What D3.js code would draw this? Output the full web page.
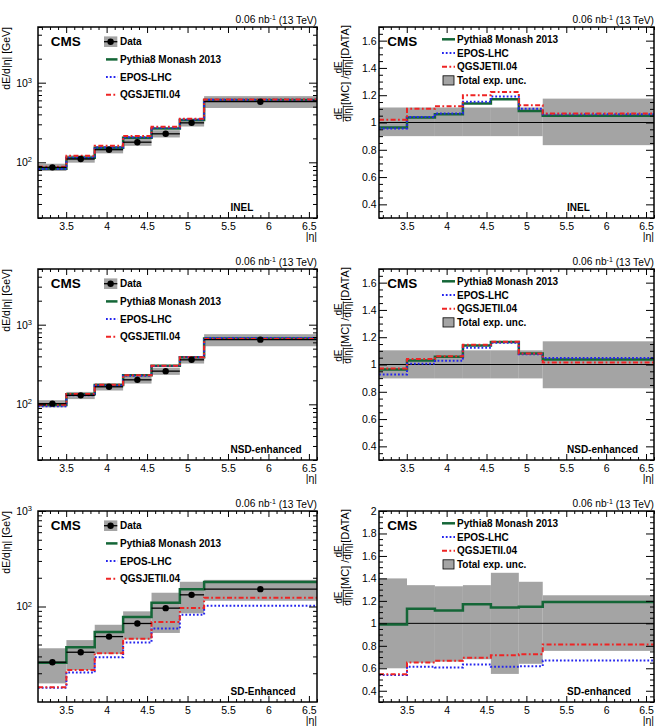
<!DOCTYPE html>
<html><head><meta charset="utf-8">
<script src="https://cdn.jsdelivr.net/npm/d3@7/dist/d3.min.js"></script>
<style>
body{margin:0;background:#fff}
svg{display:block}
text{font-family:"Liberation Sans",Arial,Helvetica,sans-serif;fill:#000}
</style>
</head><body>
<svg id="c" width="663" height="728"></svg>
<script>
// ---------------- data ----------------
const binEdges   = [3.152, 3.503, 3.853, 4.204, 4.555, 4.905, 5.205, 6.6];
const binCenters = [3.33, 3.68, 4.03, 4.38, 4.73, 5.05, 5.9];
const xTickValues = [3.5, 4, 4.5, 5, 5.5, 6, 6.5];
const legendLabels = ["Data", "Pythia8 Monash 2013", "EPOS-LHC", "QGSJETII.04", "Total exp. unc."];

// INEL
const inelData       = [86.5, 110, 144, 179, 228, 313, 577];
const inelUncUp      = [1.11, 1.11, 1.11, 1.11, 1.11, 1.11, 1.175];
const inelUncDown    = [0.90, 0.90, 0.90, 0.90, 0.90, 0.90, 0.834];
const inelPythia     = [83.3, 114.1, 152.6, 204.1, 266.8, 339.6, 605.9];
const inelEpos       = [82.7, 114.4, 153.5, 206.4, 271.3, 344.3, 611.6];
const inelQgsjet     = [88.2, 121.0, 161.3, 214.8, 279.1, 352.8, 615.1];
const inelRatioPythia = [0.963, 1.037, 1.06, 1.14, 1.17, 1.085, 1.05];
const inelRatioEpos   = [0.956, 1.04, 1.066, 1.153, 1.19, 1.10, 1.06];
const inelRatioQgsjet = [1.02, 1.10, 1.12, 1.20, 1.224, 1.127, 1.066];

// NSD-enhanced
const nsdData       = [102, 129.6, 166, 203, 261, 362, 649];
const nsdUncUp      = [1.104, 1.104, 1.104, 1.104, 1.104, 1.104, 1.17];
const nsdUncDown    = [0.898, 0.898, 0.898, 0.898, 0.898, 0.898, 0.826];
const nsdPythia     = [98.3, 133.5, 175.3, 231.4, 304.1, 391.0, 672.4];
const nsdEpos       = [94.6, 130.2, 170.5, 228.0, 302.8, 389.2, 680.2];
const nsdQgsjet     = [98.9, 134.8, 176.0, 232.4, 304.6, 391.0, 658.7];
const nsdRatioPythia = [0.964, 1.03, 1.056, 1.14, 1.165, 1.08, 1.036];
const nsdRatioEpos   = [0.927, 1.005, 1.027, 1.123, 1.16, 1.075, 1.048];
const nsdRatioQgsjet = [0.97, 1.04, 1.06, 1.145, 1.167, 1.08, 1.015];

// SD-enhanced
const sdData       = [26.1, 33.2, 48.4, 66.4, 96.1, 132.5, 152];
const sdUncUp      = [1.40, 1.34, 1.33, 1.34, 1.45, 1.37, 1.25];
const sdUncDown    = [0.60, 0.65, 0.66, 0.68, 0.55, 0.64, 0.755];
const sdPythia     = [25.8, 37.5, 54.0, 77.7, 109.6, 152.0, 180.9];
const sdEpos       = [14.1, 20.4, 29.4, 42.0, 58.9, 82.0, 101.8];
const sdQgsjet     = [14.3, 21.6, 32.3, 46.0, 68.9, 96.2, 123.4];
const sdRatioPythia = [0.99, 1.13, 1.115, 1.17, 1.14, 1.147, 1.19];
const sdRatioEpos   = [0.54, 0.613, 0.607, 0.633, 0.613, 0.619, 0.67];
const sdRatioQgsjet = [0.548, 0.652, 0.667, 0.693, 0.717, 0.726, 0.812];

const ratioTicksA = [0.4, 0.6, 0.8, 1, 1.2, 1.4, 1.6];
const ratioTicksB = [0.4, 0.6, 0.8, 1, 1.2, 1.4, 1.6, 1.8, 2];

// ---------------- style ----------------
const BAND = "#a4a4a4";
const LINE_STYLES = [
  {color: "#146637", w: 2.5, dash: null},            // Pythia
  {color: "#2424ee", w: 2,   dash: "1.8,2"},         // EPOS
  {color: "#ee2424", w: 2,   dash: "5,2.4,1.8,2.4"}  // QGSJET
];

const rows = [
  {data: inelData, up: inelUncUp, dn: inelUncDown, mc: [inelPythia, inelEpos, inelQgsjet],
   ratio: [inelRatioPythia, inelRatioEpos, inelRatioQgsjet], yDom: [20, 5000], rDom: [0.3, 1.7],
   rTicks: ratioTicksA, tagL: "INEL", tagR: "INEL"},
  {data: nsdData, up: nsdUncUp, dn: nsdUncDown, mc: [nsdPythia, nsdEpos, nsdQgsjet],
   ratio: [nsdRatioPythia, nsdRatioEpos, nsdRatioQgsjet], yDom: [20, 5000], rDom: [0.3, 1.7],
   rTicks: ratioTicksA, tagL: "NSD-enhanced", tagR: "NSD-enhanced"},
  {data: sdData, up: sdUncUp, dn: sdUncDown, mc: [sdPythia, sdEpos, sdQgsjet],
   ratio: [sdRatioPythia, sdRatioEpos, sdRatioQgsjet], yDom: [10, 1000], rDom: [0.3, 2.0],
   rTicks: ratioTicksB, tagL: "SD-Enhanced", tagR: "SD-enhanced"}
];

const svg = d3.select("#c");
const X_DOM = [3.152, 6.6];
const xMinor = d3.range(32, 67).filter(k => k % 5 !== 0).map(k => k / 10);

function stepPts(vals) {
  return binEdges.map((e, i) => [e, vals[Math.min(i, vals.length - 1)]]);
}

function cleanAxis(sel, fs) {
  sel.select(".domain").remove();
  sel.attr("font-family", null).attr("font-size", fs || 10.5);
  sel.selectAll(".tick line").attr("stroke", "#000").attr("stroke-width", 1);
}

function frameAxes(g, x, y, top, bot, left, right, yMajor, yMinor, yFmt, yPad) {
  g.append("g").attr("transform", `translate(0,${bot})`)
    .call(d3.axisBottom(x).tickValues(xTickValues).tickSize(-6).tickPadding(4.2).tickFormat(d3.format("")))
    .call(s => cleanAxis(s));
  g.append("g").attr("transform", `translate(0,${bot})`)
    .call(d3.axisBottom(x).tickValues(xMinor).tickSize(-3).tickFormat(""))
    .call(s => cleanAxis(s));
  g.append("g").attr("transform", `translate(0,${top})`)
    .call(d3.axisTop(x).tickValues(xTickValues).tickSize(-6).tickFormat(""))
    .call(s => cleanAxis(s));
  g.append("g").attr("transform", `translate(0,${top})`)
    .call(d3.axisTop(x).tickValues(xMinor).tickSize(-3).tickFormat(""))
    .call(s => cleanAxis(s));
  const ya = g.append("g").attr("transform", `translate(${left},0)`)
    .call(d3.axisLeft(y).tickValues(yMajor).tickSize(-8).tickPadding(yPad).tickFormat(yFmt))
    .call(s => cleanAxis(s));
  g.append("g").attr("transform", `translate(${left},0)`)
    .call(d3.axisLeft(y).tickValues(yMinor).tickSize(-4).tickFormat(""))
    .call(s => cleanAxis(s));
  g.append("g").attr("transform", `translate(${right},0)`)
    .call(d3.axisRight(y).tickValues(yMajor).tickSize(-8).tickFormat(""))
    .call(s => cleanAxis(s));
  g.append("g").attr("transform", `translate(${right},0)`)
    .call(d3.axisRight(y).tickValues(yMinor).tickSize(-4).tickFormat(""))
    .call(s => cleanAxis(s));
  g.append("rect").attr("x", left).attr("y", top).attr("width", right - left).attr("height", bot - top)
    .attr("fill", "none").attr("stroke", "#000").attr("stroke-width", 1.5);
  return ya;
}

function lumiText(g, right, top) {
  const t = g.append("text").attr("x", right).attr("y", top - 4).attr("text-anchor", "end").attr("font-size", 10.2);
  t.append("tspan").text("0.06 nb");
  t.append("tspan").attr("dy", "-0.45em").attr("font-size", 7).text("-1");
  t.append("tspan").attr("dy", "0.45em").text(" (13 TeV)");
}

function drawLines(g, x, y, series) {
  const line = d3.line().x(d => x(d[0])).y(d => y(d[1])).curve(d3.curveStepAfter);
  series.forEach((vals, k) => {
    const st = LINE_STYLES[k];
    g.append("path").attr("d", line(stepPts(vals))).attr("fill", "none")
      .attr("stroke", st.color).attr("stroke-width", st.w)
      .attr("stroke-dasharray", st.dash);
  });
}

function etaLabel(g, right, bot) {
  g.append("text").attr("x", right).attr("y", bot + 21.5).attr("text-anchor", "end")
    .attr("font-size", 10.5).text("|η|");
}

// ---------------- left panels ----------------
function leftPanel(r, row) {
  const top = 27 + 242 * r, bot = top + 191, left = 38, right = 317;
  const x = d3.scaleLinear().domain(X_DOM).range([left, right]);
  const y = d3.scaleLog().domain(row.yDom).range([bot, top]);
  const g = svg.append("g");

  g.selectAll(null).data(row.data).join("rect")
    .attr("x", (d, i) => x(binEdges[i]))
    .attr("width", (d, i) => x(binEdges[i + 1]) - x(binEdges[i]))
    .attr("y", (d, i) => y(d * row.up[i]))
    .attr("height", (d, i) => y(d * row.dn[i]) - y(d * row.up[i]))
    .attr("fill", BAND);
  drawLines(g, x, y, row.mc);
  g.selectAll(null).data(row.data).join("line")
    .attr("x1", (d, i) => x(binEdges[i])).attr("x2", (d, i) => x(binEdges[i + 1]))
    .attr("y1", d => y(d)).attr("y2", d => y(d))
    .attr("stroke", "#000").attr("stroke-width", 1.3);
  g.selectAll(null).data(row.data).join("circle")
    .attr("cx", (d, i) => x(binCenters[i])).attr("cy", d => y(d)).attr("r", 3.2).attr("fill", "#000");

  const yMajor = [100, 1000];
  const yMinor = [];
  [10, 100, 1000].forEach(dec => d3.range(2, 10).forEach(m => {
    const v = m * dec; if (v > row.yDom[0] * 0.999 && v < row.yDom[1] * 1.001) yMajor.indexOf(v) < 0 && yMinor.push(v);
  }));
  const ya = frameAxes(g, x, y, top, bot, left, right, yMajor, yMinor, d => "", 6);
  ya.selectAll(".tick text").each(function(d) {
    const t = d3.select(this);
    t.text(null);
    t.append("tspan").text("10");
    t.append("tspan").attr("dy", "-0.5em").attr("font-size", 7.5).text(String(Math.round(Math.log10(d))));
  });

  g.append("text").attr("transform", `translate(9.5,${top}) rotate(-90)`).attr("text-anchor", "end")
    .attr("font-size", 10.5).text("dE/d|η| [GeV]");
  etaLabel(g, right, bot);
  lumiText(g, right, top);
  g.append("text").attr("x", left + 12.7).attr("y", top + 19).attr("font-size", 13.5)
    .attr("font-weight", "bold").text("CMS");
  g.append("text").attr("x", 230.5).attr("y", top + 183.7).attr("font-size", 10)
    .attr("font-weight", "bold").text(row.tagL);

  const ly = i => top + 14.7 + i * 17.7;
  g.append("rect").attr("x", 104).attr("y", ly(0) - 5.3).attr("width", 13.3).attr("height", 10.6).attr("fill", BAND);
  g.append("line").attr("x1", 104).attr("x2", 117.3).attr("y1", ly(0)).attr("y2", ly(0)).attr("stroke", "#000").attr("stroke-width", 1.3);
  g.append("circle").attr("cx", 110.6).attr("cy", ly(0)).attr("r", 3.2).attr("fill", "#000");
  [0, 1, 2].forEach(k => {
    const st = LINE_STYLES[k];
    g.append("line").attr("x1", 106).attr("x2", 117.5).attr("y1", ly(k + 1)).attr("y2", ly(k + 1))
      .attr("stroke", st.color).attr("stroke-width", st.w).attr("stroke-dasharray", st.dash);
  });
  [0, 1, 2, 3].forEach(i => {
    g.append("text").attr("x", 120).attr("y", ly(i) + 3.6).attr("font-size", 10)
      .attr("font-weight", "bold").text(legendLabels[i]);
  });
}

// ---------------- right panels ----------------
function ratioLabel(g, top) {
  const lg = g.append("g");
  let cx = 0;
  function frac() {
    const num = lg.append("text").attr("font-size", 10).text("dE");
    const den = lg.append("text").attr("font-size", 10).text("d|η|");
    const w = Math.max(num.node().getComputedTextLength(), den.node().getComputedTextLength());
    num.attr("x", cx + w / 2).attr("y", -5.3).attr("text-anchor", "middle");
    den.attr("x", cx + w / 2).attr("y", 3.6).attr("text-anchor", "middle");
    lg.append("line").attr("x1", cx).attr("x2", cx + w).attr("y1", -3.7).attr("y2", -3.7)
      .attr("stroke", "#000").attr("stroke-width", 0.8);
    cx += w + 0.5;
  }
  function txt(s) {
    const t = lg.append("text").attr("font-size", 11).attr("x", cx).attr("y", 1.5).text(s);
    cx += t.node().getComputedTextLength();
  }
  frac(); txt("[MC] / "); frac(); txt("[DATA]");
  const startY = top - 2 + cx;
  lg.attr("transform", `translate(347,${startY}) rotate(-90)`);
}

function rightPanel(r, row) {
  const top = 27 + 242 * r, bot = top + 191, left = 379, right = 654;
  const x = d3.scaleLinear().domain(X_DOM).range([left, right]);
  const y = d3.scaleLinear().domain(row.rDom).range([bot, top]);
  const g = svg.append("g");

  g.selectAll(null).data(row.up).join("rect")
    .attr("x", (d, i) => x(binEdges[i]))
    .attr("width", (d, i) => x(binEdges[i + 1]) - x(binEdges[i]))
    .attr("y", d => y(d))
    .attr("height", (d, i) => y(row.dn[i]) - y(d))
    .attr("fill", BAND);
  g.append("line").attr("x1", left).attr("x2", right).attr("y1", y(1)).attr("y2", y(1))
    .attr("stroke", "#000").attr("stroke-width", 1);
  drawLines(g, x, y, row.ratio);

  const yMinor = d3.range(Math.round(row.rDom[0] * 20), Math.round(row.rDom[1] * 20) + 1)
    .filter(k => k % 4 !== 0).map(k => k / 20);
  frameAxes(g, x, y, top, bot, left, right, row.rTicks, yMinor, d => String(+d.toFixed(1)), 2.5);

  ratioLabel(g, top);
  etaLabel(g, right, bot);
  lumiText(g, right, top);
  g.append("text").attr("x", left + 8.3).attr("y", top + 18.7).attr("font-size", 13.5)
    .attr("font-weight", "bold").text("CMS");
  g.append("text").attr("x", 567).attr("y", top + 183.7).attr("font-size", 10)
    .attr("font-weight", "bold").text(row.tagR);

  const ly = i => top + 12.3 + i * 13.7;
  [0, 1, 2].forEach(k => {
    const st = LINE_STYLES[k];
    g.append("line").attr("x1", 442).attr("x2", 455).attr("y1", ly(k)).attr("y2", ly(k))
      .attr("stroke", st.color).attr("stroke-width", st.w).attr("stroke-dasharray", st.dash);
  });
  g.append("rect").attr("x", 443).attr("y", ly(3) - 4.6).attr("width", 11).attr("height", 9.2)
    .attr("fill", BAND).attr("stroke", "#000").attr("stroke-width", 0.8);
  [1, 2, 3, 4].forEach((li, i) => {
    g.append("text").attr("x", 457).attr("y", ly(i) + 3.6).attr("font-size", 10)
      .attr("font-weight", "bold").text(legendLabels[li]);
  });
}

rows.forEach((row, r) => { leftPanel(r, row); rightPanel(r, row); });
</script>
</body></html>
